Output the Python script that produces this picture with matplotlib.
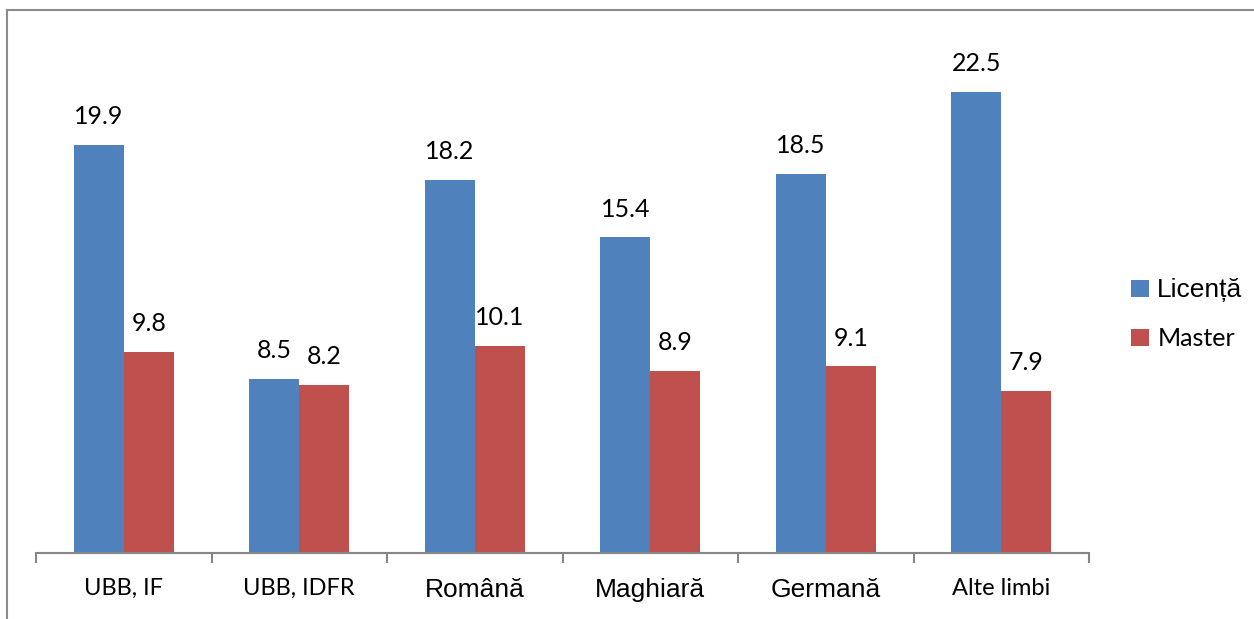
import matplotlib.pyplot as plt
from matplotlib.lines import Line2D
import numpy as np

categories = ['UBB, IF', 'UBB, IDFR', 'Română', 'Maghiară', 'Germană', 'Alte limbi']
licenta = [19.9, 8.5, 18.2, 15.4, 18.5, 22.5]
master = [9.8, 8.2, 10.1, 8.9, 9.1, 7.9]
series_names = ['Licență', 'Master']

calibri_like = ['Lato', 'DejaVu Sans']
arial_like = ['Liberation Sans', 'DejaVu Sans']
label_fonts = [calibri_like, calibri_like, arial_like, arial_like, arial_like, calibri_like]

W, H = 1254, 619
fig = plt.figure(figsize=(W / 100, H / 100), dpi=100)
ax = fig.add_axes([36 / W, (H - 553) / H, (1089 - 36) / W, (553 - 40.5) / H])

x = np.arange(len(categories))
bw = 0.285
b1 = ax.bar(x - bw / 2, licenta, bw, color='#4F81BD', label=series_names[0])
b2 = ax.bar(x + bw / 2, master, bw, color='#C0504D', label=series_names[1])

for bars, vals in ((b1, licenta), (b2, master)):
    for rect, v in zip(bars, vals):
        ax.annotate(f'{v:.1f}', (rect.get_x() + rect.get_width() / 2, v),
                    xytext=(0, 12), textcoords='offset points',
                    ha='center', va='bottom', fontsize=18, family=calibri_like)

ax.set_xlim(-0.5, len(categories) - 0.5)
ax.set_ylim(0, 25)
for s in ['top', 'right', 'left']:
    ax.spines[s].set_visible(False)
ax.spines['bottom'].set_color('#868686')
ax.spines['bottom'].set_linewidth(1.5)
ax.set_yticks([])

ax.set_xticks(x)
ax.set_xticklabels(categories)
ax.tick_params(axis='x', which='major', length=0, pad=18)
ax.set_xticks(np.arange(len(categories) + 1) - 0.5, minor=True)
ax.tick_params(axis='x', which='minor', length=7, width=1.5, color='#868686', direction='out')
for lbl, fam in zip(ax.get_xticklabels(), label_fonts):
    lbl.set_family(fam)
    lbl.set_fontsize(17 if fam is calibri_like else 19)

leg = fig.legend(handles=[b1, b2], loc='center left', bbox_to_anchor=(1131 / W, 1 - 314 / H),
                 frameon=False, borderpad=0, borderaxespad=0,
                 handlelength=0.7, handleheight=0.7, handletextpad=0.35,
                 labelspacing=1.0, fontsize=18)
texts = leg.get_texts()
texts[0].set_family(arial_like)
texts[0].set_fontsize(19)
texts[1].set_family(calibri_like)
texts[1].set_fontsize(18)

# outer chart border (top and left edges visible)
fig.add_artist(Line2D([7 / W, 1], [1 - 10 / H, 1 - 10 / H], color='#8c8c8c', lw=1.5))
fig.add_artist(Line2D([7 / W, 7 / W], [0, 1 - 10 / H], color='#8c8c8c', lw=1.5))

fig.savefig('out.png', dpi=100)
